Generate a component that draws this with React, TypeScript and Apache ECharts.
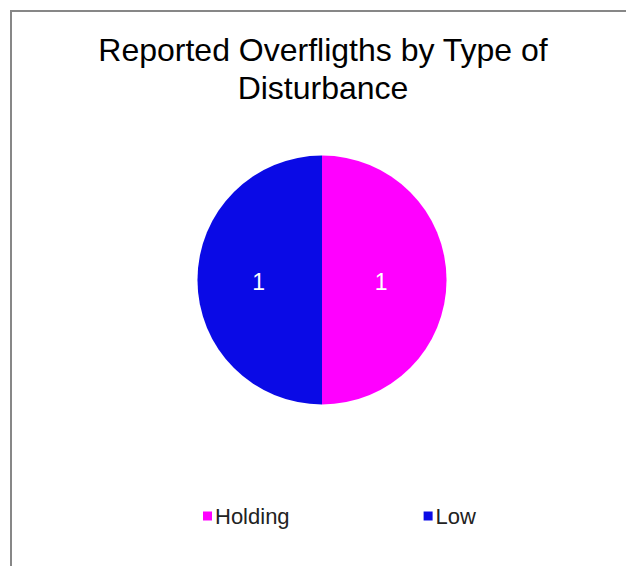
import React, { useEffect, useRef } from "react";
import * as echarts from "echarts";

const titleText = "Reported Overfligths by Type of\nDisturbance";
const categories = ["Holding", "Low"];
const values = [1, 1];
const colors = ["#FF00FF", "#0A0AE6"];
const labelOffsets = [[-6, 2], [2, 2]];

export default function App() {
  const ref = useRef<HTMLDivElement>(null);
  useEffect(() => {
    if (!ref.current) return;
    const chart = echarts.init(ref.current, null, { renderer: "svg" });
    chart.setOption({
      animation: false,
      backgroundColor: "#ffffff",
      graphic: [
        {
          type: "rect",
          shape: { x: 11, y: 11, width: 700, height: 700 },
          style: { fill: "none", stroke: "#878787", lineWidth: 2 },
          silent: true,
        },
      ],
      title: {
        text: titleText,
        left: 323,
        top: 31,
        padding: 0,
        textAlign: "center",
        textStyle: {
          fontFamily: "Liberation Sans, Arial, sans-serif",
          fontSize: 32,
          fontWeight: "normal",
          color: "#000000",
          lineHeight: 38,
        },
      },
      legend: {
        data: categories,
        left: 198,
        top: 500,
        itemWidth: 9,
        itemHeight: 9,
        itemGap: 134,
        icon: "rect",
        textStyle: {
          fontFamily: "Liberation Sans, Arial, sans-serif",
          fontSize: 22,
          color: "#222222",
          padding: [0, 0, 0, -2],
        },
      },
      series: [
        {
          type: "pie",
          center: [322, 280],
          radius: 124.5,
          startAngle: 90,
          clockwise: true,
          label: {
            show: true,
            position: "inside",
            formatter: "{c}",
            color: "#ffffff",
            fontSize: 23,
            fontFamily: "Liberation Sans, Arial, sans-serif",
          },
          labelLine: { show: false },
          emphasis: { disabled: true },
          data: categories.map((name, i) => ({
            name,
            value: values[i],
            itemStyle: { color: colors[i] },
            label: { offset: labelOffsets[i] },
          })),
        },
      ],
    });
    return () => chart.dispose();
  }, []);
  return (
    <div
      ref={ref}
      style={{ position: "absolute", left: 0, top: 0, width: 626, height: 566 }}
    />
  );
}
